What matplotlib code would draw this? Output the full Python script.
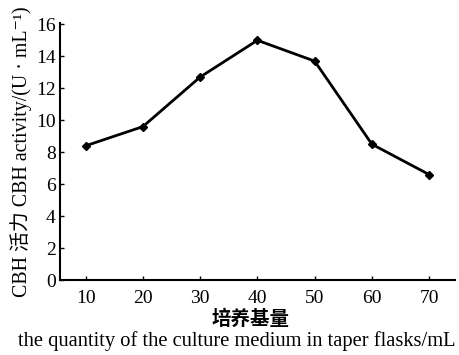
import matplotlib
matplotlib.use('Agg')
import matplotlib.pyplot as plt

# culture medium volume (mL) and CBH activity (U/mL)
volume = [10, 20, 30, 40, 50, 60, 70]
activity = [8.4, 9.6, 12.7, 15.0, 13.7, 8.5, 6.6]
yticks = [0, 2, 4, 6, 8, 10, 12, 14, 16]

serif = ['Liberation Serif', 'Noto Sans CJK SC', 'DejaVu Serif']
plt.rcParams['font.family'] = serif

fig = plt.figure(figsize=(4.6, 3.55), dpi=100)
ax = fig.add_axes([0.13, 0.211, 0.859, 0.725])

ax.plot(volume, activity, color='black', linewidth=2.0, marker='D', markersize=4)

ax.set_xlim(5.5, 74.5)
ax.set_ylim(0, 16.1)
ax.set_xticks(volume)
ax.set_yticks(yticks)
ax.tick_params(direction='in', length=3, width=1, labelsize=14)
ax.tick_params(axis='x', pad=7)
ax.tick_params(axis='y', pad=3)
for s in ['top', 'right']:
    ax.spines[s].set_visible(False)
for s in ['left', 'bottom']:
    ax.spines[s].set_linewidth(1.5)

ax.set_ylabel('CBH 活力 CBH activity/(U · mL⁻¹)', fontsize=14.3, labelpad=3)
fig.text(0.545, 0.1, '培养基量', ha='center', va='center', fontsize=14,
         family=['Noto Sans CJK SC'], fontweight='bold')
fig.text(0.514, 0.04, 'the quantity of the culture medium in taper flasks/mL',
         ha='center', va='center', fontsize=14.8)

fig.savefig('out.png', dpi=100)
